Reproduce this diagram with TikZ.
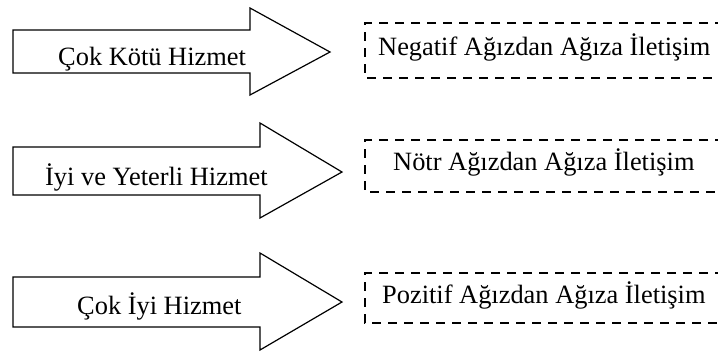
\documentclass[tikz,border=0pt]{standalone}
\usepackage{fontspec}
\setmainfont{Liberation Serif}
\begin{document}
\begin{tikzpicture}[x=1pt,y=-1pt,
  blockarrow/.style={draw=black,line width=1.2pt,fill=white,line join=miter},
  outcome/.style={draw=black,line width=1.6pt,dash pattern=on 9pt off 7pt},
  label/.style={inner sep=0pt,anchor=base west,font=\fontsize{26.4}{30}\selectfont}]
\useasboundingbox (0,0) rectangle (718,354);
\clip (0,0) rectangle (718,354);
% service-level arrows
\draw[blockarrow] (13,30) -- (250,30) -- (250,8) -- (330,52) -- (250,95) -- (250,73) -- (13,73) -- cycle;
\draw[blockarrow] (13,147) -- (260,147) -- (260,123) -- (342,172) -- (260,218) -- (260,195) -- (13,195) -- cycle;
\draw[blockarrow] (13,277) -- (260,277) -- (260,253) -- (342,302) -- (260,350) -- (260,327) -- (13,327) -- cycle;
\node[label] (s1) at (58,65) {Çok Kötü Hizmet};
\node[label] (s2) at (45,185) {İyi ve Yeterli Hizmet};
\node[label] (s3) at (77,314) {Çok İyi Hizmet};
% word-of-mouth outcomes (boxes run past the right edge)
\draw[outcome] (740,23) -- (365,23) -- (365,78) -- (740,78);
\draw[outcome] (740,140) -- (365,140) -- (365,192) -- (740,192);
\draw[outcome] (740,273) -- (365,273) -- (365,323) -- (740,323);
\node[label] (w1) at (378,55) {Negatif Ağızdan Ağıza İletişim};
\node[label] (w2) at (393,170) {Nötr Ağızdan Ağıza İletişim};
\node[label] (w3) at (382,303) {Pozitif Ağızdan Ağıza İletişim};
\end{tikzpicture}
\end{document}
